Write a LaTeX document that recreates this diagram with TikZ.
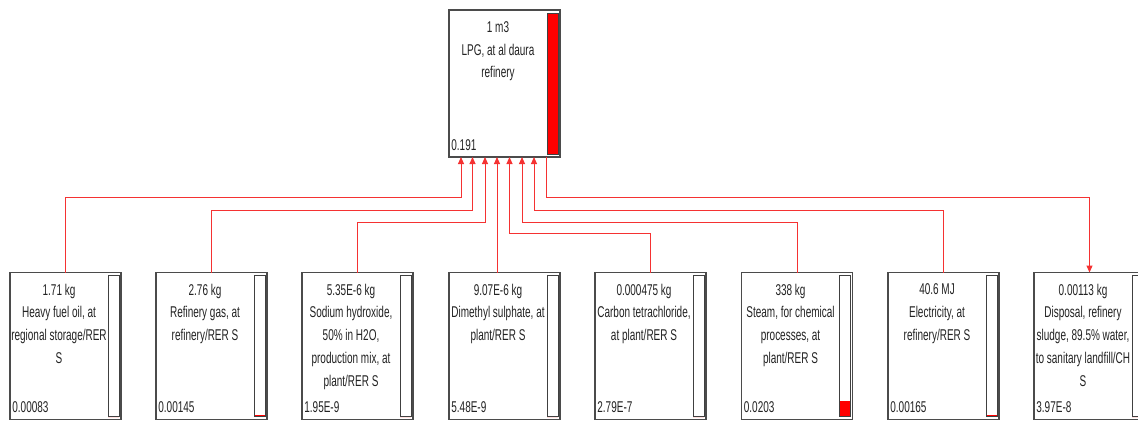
\documentclass[tikz,border=0pt]{standalone}
\usepackage{fontspec}
\setmainfont[FakeStretch=0.64]{Liberation Sans}
\usetikzlibrary{arrows.meta,calc}
\definecolor{flowred}{RGB}{245,50,50}
\definecolor{framegray}{RGB}{75,75,75}
\definecolor{textgray}{RGB}{35,35,35}
\definecolor{barred}{RGB}{255,0,0}

\begin{document}
\begin{tikzpicture}[x=0.5pt, y=-0.5pt,
    procbox/.style={draw=framegray, line width=0.7pt, fill=white, minimum width=55.5pt,
      minimum height=73.5pt, inner sep=0pt, outer sep=0pt, anchor=north west},
    proctext/.style={align=center, inner sep=0pt, anchor=north, text=textgray,
      font=\fontsize{7.8}{11.35}\selectfont},
    valtext/.style={inner sep=0pt, anchor=base west, text=textgray,
      font=\fontsize{7.8}{11.35}\selectfont},
    barframe/.style={draw=black!75, line width=0.5pt},
    flow/.style={draw=flowred, line width=0.5pt, -{Triangle[length=3.5pt,width=3pt]}}]

  \useasboundingbox[fill=white] (0,0) rectangle (1138,420);

  % Process boxes with score bars
  \foreach \n/\px/\py/\txt/\val/\f in {
      lpg/449/10/{1 m3\\LPG, at al daura\\refinery}/0.191/1,
      hfo/10/272.5/{1.71 kg\\Heavy fuel oil, at\\regional storage/RER\\S}/0.00083/0,
      rgas/156/272.5/{2.76 kg\\Refinery gas, at\\refinery/RER S}/0.00145/0.008,
      naoh/302/272.5/{5.35E-6 kg\\Sodium hydroxide,\\50\% in H2O,\\production mix, at\\plant/RER S}/1.95E-9/0,
      dms/449/272.5/{9.07E-6 kg\\Dimethyl sulphate, at\\plant/RER S}/5.48E-9/0,
      ccl4/595/272.5/{0.000475 kg\\Carbon tetrachloride,\\at plant/RER S}/2.79E-7/0,
      steam/741.5/272.5/{338 kg\\Steam, for chemical\\processes, at\\plant/RER S}/0.0203/0.107,
      elec/888/272.5/{40.6 MJ\\Electricity, at\\refinery/RER S}/0.00165/0.008,
      sludge/1034/272.5/{0.00113 kg\\Disposal, refinery\\sludge, 89.5\% water,\\to sanitary landfill/CH\\S}/3.97E-8/0} {
    \node[procbox] (\n) at (\px,\py) {};
    \node[proctext] (\n txt) at ($(\n.north)+(-6.5,11)$) {\txt};
    \node[valtext] (\n val) at ($(\n.south west)+(2,-7)$) {\val};
    \fill[barred] ($(\n.south east)+(-13,-3)$) rectangle ($(\n.south east)+(-2,{-3-141*\f})$);
    \draw[barframe] ($(\n.north east)+(-13,3)$) rectangle ($(\n.south east)+(-2,-3)$);
  }

  % Connector levels and inputs of the top process
  \coordinate (lvA) at (0,197);
  \coordinate (lvB) at (0,210);
  \coordinate (lvC) at (0,222);
  \coordinate (lvD) at (0,233);
  \foreach \i/\dx in {1/12,2/23.5,3/36,4/48,5/60.5,6/73,7/85,8/97}
    \coordinate (in\i) at ($(lpg.south west)+(\dx,0)$);

  % Flows into LPG
  \draw[flow] (hfo.north) -- (hfo.north |- lvA) -| (in1);
  \draw[flow] (rgas.north) -- (rgas.north |- lvB) -| (in2);
  \draw[flow] (naoh.north) -- (naoh.north |- lvC) -| (in3);
  \draw[flow] (dms.north -| in4) -- (in4);
  \draw[flow] (ccl4.north) -- (ccl4.north |- lvD) -| (in5);
  \draw[flow] (steam.north) -- (steam.north |- lvC) -| (in6);
  \draw[flow] (elec.north) -- (elec.north |- lvB) -| (in7);

  % Flow to disposal
  \draw[flow] (in8) -- (in8 |- lvA) -| (sludge.north);

\end{tikzpicture}
\end{document}
